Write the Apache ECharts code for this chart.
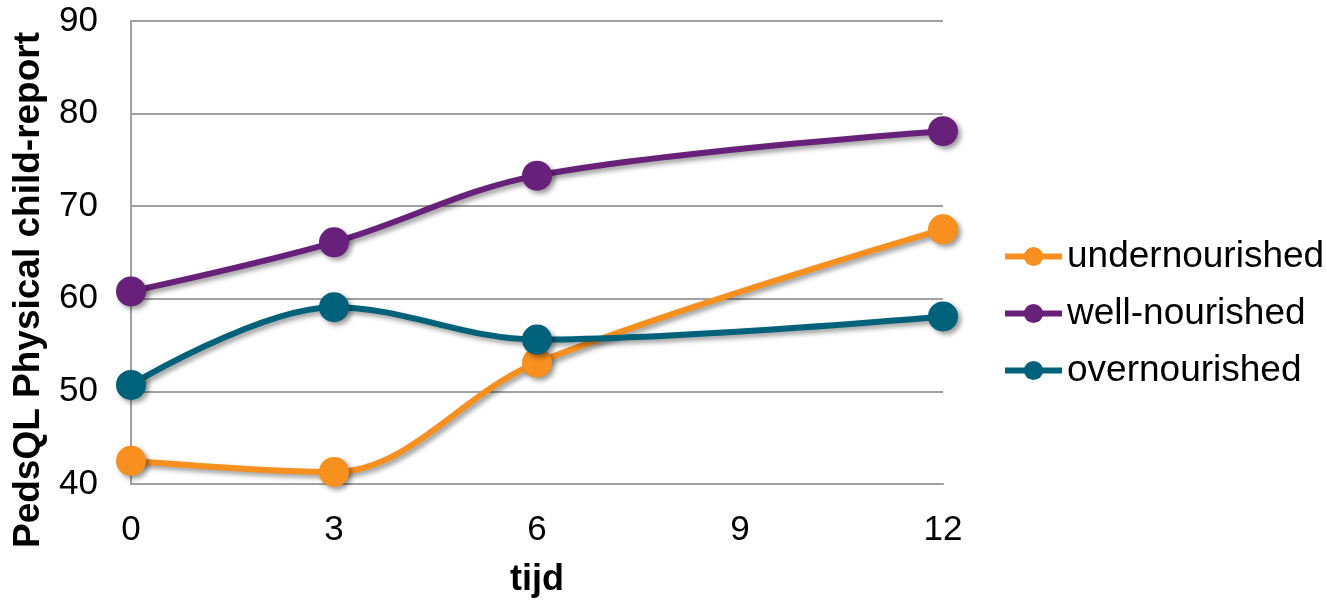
<!DOCTYPE html>
<html>
<head>
<meta charset="utf-8">
<script src="https://cdn.jsdelivr.net/npm/echarts@6/dist/echarts.min.js"></script>
<style>
html,body{margin:0;padding:0;background:#fff;overflow:hidden;}
#chart{width:1327px;height:603px;}
</style>
</head>
<body>
<div id="chart"></div>
<script>
const timepoints = [0, 3, 6, 12];
const undernourished = [42.5, 41.3, 53.1, 67.5];
const wellNourished = [60.8, 66.1, 73.3, 78.1];
const overnourished = [50.7, 59.1, 55.6, 58.1];
const seriesNames = ['undernourished', 'well-nourished', 'overnourished'];
const seriesColors = ['#F7901E', '#68217A', '#00617A'];
const xAxisTitle = 'tijd';
const yAxisTitle = 'PedsQL Physical child-report';

const font = 'Liberation Sans, Arial, sans-serif';
const shadow = {shadowColor: 'rgba(0,0,0,0.4)', shadowBlur: 5, shadowOffsetX: 3, shadowOffsetY: 3};

function pairs(vals) { return timepoints.map((t, i) => [t, vals[i]]); }
const allData = [undernourished, wellNourished, overnourished];

const chart = echarts.init(document.getElementById('chart'));
chart.setOption({
  animation: false,
  backgroundColor: '#fff',
  grid: {left: 131, width: 812, top: 21, height: 467},
  legend: {
    left: 1002, top: 238, orient: 'vertical', padding: 0,
    itemWidth: 57, itemHeight: 24, itemGap: 20,
    lineStyle: {width: 6},
    textStyle: {fontFamily: font, fontSize: 37, color: '#000'},
    data: seriesNames
  },
  xAxis: {
    type: 'value', min: 0, max: 12, interval: 3,
    name: xAxisTitle, nameLocation: 'middle', nameGap: 78,
    nameTextStyle: {fontFamily: font, fontSize: 36, fontWeight: 'bold', color: '#000'},
    axisLine: {show: true, lineStyle: {color: '#A0A0A0', width: 2}},
    axisTick: {show: false},
    splitLine: {show: false},
    axisLabel: {fontFamily: font, fontSize: 35, color: '#000', margin: 29}
  },
  yAxis: {
    type: 'value', min: 40, max: 90, interval: 10,
    axisLine: {show: true, lineStyle: {color: '#A0A0A0', width: 2}},
    axisTick: {show: false},
    splitLine: {show: true, lineStyle: {color: '#A0A0A0', width: 2}},
    axisLabel: {fontFamily: font, fontSize: 35, color: '#000', margin: 33}
  },
  graphic: [{
    type: 'text', x: 29, y: 290, rotation: Math.PI / 2,
    style: {text: yAxisTitle, font: 'bold 37px ' + font, fill: '#000', align: 'center', verticalAlign: 'middle'}
  }],
  series: seriesNames.map((n, i) => ({
    name: n, type: 'line', smooth: 0.35,
    data: pairs(allData[i]),
    symbol: 'circle', symbolSize: 30,
    color: seriesColors[i],
    lineStyle: Object.assign({width: 6, color: seriesColors[i]}, shadow),
    itemStyle: Object.assign({color: seriesColors[i]}, shadow)
  }))
});
</script>
</body>
</html>
